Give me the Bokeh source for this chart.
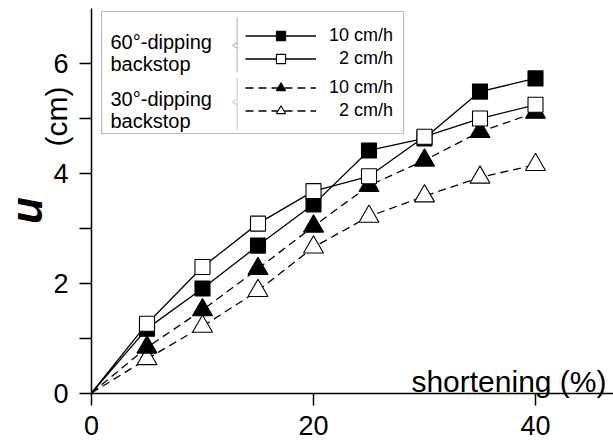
from bokeh.plotting import figure
from bokeh.models import (Range1d, FixedTicker, Label, BoxAnnotation, LinearAxis,
                          PolyAnnotation, Legend, LegendItem)
from bokeh.embed import file_html
from bokeh.resources import INLINE

# ---------------- data ----------------
shortening = [0, 5, 10, 15, 20, 25, 30, 35, 40]
u60_fast = [0, 1.17, 1.90, 2.68, 3.43, 4.41, 4.63, 5.48, 5.72]
u60_slow = [0, 1.26, 2.29, 3.08, 3.67, 3.94, 4.66, 4.99, 5.24]
u30_fast = [0, 0.83, 1.51, 2.26, 3.03, 3.77, 4.23, 4.75, 5.10]
u30_slow = [0, 0.62, 1.21, 1.86, 2.65, 3.21, 3.58, 3.92, 4.15]

x_ticks = [0, 20, 40]
y_ticks = [0, 2, 4, 6]
y_minor_ticks = [1, 3, 5]

rate_labels = ["10 cm/h", "\u20072 cm/h"]
group_labels = [["60°-dipping", "backstop"], ["30°-dipping", "backstop"]]
x_label = "shortening (%)"
y_label_symbol = "u"
y_label_unit = "(cm)"

FONT = "Liberation Sans"

# canvas size; data origin at canvas pixel (91, 392.5 from top)
W, H = 613, 444
X0, Y0 = 91, 392.5
PX_X, PX_Y = 11.1, 55.0
x_start, x_end = -X0 / PX_X, (W - X0) / PX_X
y_start, y_end = -(H - Y0) / PX_Y, Y0 / PX_Y

p = figure(width=W, height=H, output_backend="svg", toolbar_location=None,
           x_range=Range1d(x_start, x_end), y_range=Range1d(y_start, y_end),
           x_axis_type=None, y_axis_type=None,
           min_border_left=0, min_border_right=0, min_border_top=0,
           min_border_bottom=0)
p.outline_line_color = None
p.grid.visible = False
p.background_fill_color = "white"

xaxis = LinearAxis(fixed_location=0, bounds=(0, x_end),
                   ticker=FixedTicker(ticks=x_ticks, minor_ticks=[]))
yaxis = LinearAxis(fixed_location=0, bounds=(0, 7.0),
                   ticker=FixedTicker(ticks=y_ticks, minor_ticks=y_minor_ticks))
for ax in (xaxis, yaxis):
    ax.axis_line_width = 1.5
    ax.axis_line_color = "black"
    ax.major_tick_line_width = 1.5
    ax.minor_tick_line_width = 1.5
    ax.major_tick_in = 0
    ax.major_tick_out = 12
    ax.minor_tick_in = 0
    ax.minor_tick_out = 12
    ax.major_label_text_font = FONT
    ax.major_label_text_font_size = "27px"
    ax.major_label_text_color = "black"
xaxis.major_label_standoff = 11
yaxis.major_label_standoff = 11
p.add_layout(xaxis, "below")
p.add_layout(yaxis, "left")

# ---------------- lines ----------------
lw = 1.3
l1 = p.line(shortening, u60_fast, line_color="black", line_width=lw)
l2 = p.line(shortening, u60_slow, line_color="black", line_width=lw)
l3 = p.line(shortening, u30_fast, line_color="black", line_width=lw, line_dash="8 5")
l4 = p.line(shortening, u30_slow, line_color="black", line_width=lw, line_dash="8 5")

# ---------------- markers (no marker at origin) ----------------
s4 = p.scatter(shortening[1:], u30_slow[1:], marker="triangle", size=20,
               fill_color="white", line_color="black", line_width=1.1)
s3 = p.scatter(shortening[1:], u30_fast[1:], marker="triangle", size=20,
               fill_color="black", line_color="black", line_width=1.1)
s1 = p.scatter(shortening[1:], u60_fast[1:], marker="square", size=15,
               fill_color="black", line_color="black", line_width=1.1)
s2 = p.scatter(shortening[1:], u60_slow[1:], marker="square", size=15,
               fill_color="white", line_color="black", line_width=1.1)

# ---------------- legend ----------------
def make_legend(items, loc):
    return Legend(items=items, location=loc, glyph_width=71, glyph_height=23,
                  label_height=23, label_standoff=13, spacing=0, padding=0,
                  margin=0, border_line_color=None, background_fill_alpha=0,
                  label_text_font=FONT, label_text_font_size="18px",
                  label_text_color="black")

leg1 = make_legend([LegendItem(label=rate_labels[0], renderers=[l1, s1]),
                    LegendItem(label=rate_labels[1], renderers=[l2, s2])],
                   (245, 374.5))
leg2 = make_legend([LegendItem(label=rate_labels[0], renderers=[l3, s3]),
                    LegendItem(label=rate_labels[1], renderers=[l4, s4])],
                   (245, 322.5))
p.add_layout(leg1)
p.add_layout(leg2)

p.add_layout(BoxAnnotation(left=101, right=403, top=433, bottom=311,
                           left_units="screen", right_units="screen",
                           top_units="screen", bottom_units="screen",
                           fill_alpha=0, line_color="#222", line_width=1.2))

p.add_layout(PolyAnnotation(xs=[236.7, 236.7, 232, 236.7, 236.7],
                            ys=[427.3, 402, 399, 396, 372.3],
                            xs_units="screen", ys_units="screen",
                            fill_alpha=0, line_color="#222", line_width=1.2))
p.add_layout(PolyAnnotation(xs=[236.7, 236.7, 232, 236.7, 236.7],
                            ys=[367.3, 345.3, 342.3, 339.3, 314],
                            xs_units="screen", ys_units="screen",
                            fill_alpha=0, line_color="#888", line_width=1.5))

baselines = [[402.3, 380.7], [345.7, 324]]
for grp, bls in zip(group_labels, baselines):
    for txt, by in zip(grp, bls):
        p.add_layout(Label(x=110, y=by, x_units="screen", y_units="screen",
                           text=txt, text_font=FONT, text_font_size="20px",
                           text_baseline="alphabetic", text_align="left",
                           text_color="black"))

# ---------------- axis titles ----------------
p.add_layout(Label(x=606, y=63.3, x_units="screen", y_units="screen",
                   text=x_label, text_font=FONT, text_font_size="30px",
                   text_align="right", text_baseline="alphabetic",
                   text_color="black"))
p.add_layout(Label(x=26, y=234, x_units="screen", y_units="screen",
                   text=y_label_symbol, angle=1.5708, text_font=FONT,
                   text_font_size="44px", text_font_style="bold italic",
                   text_align="center", text_baseline="middle",
                   text_color="black"))
p.add_layout(Label(x=56, y=328, x_units="screen", y_units="screen",
                   text=y_label_unit, angle=1.5708, text_font=FONT,
                   text_font_size="30px", text_align="center",
                   text_baseline="middle", text_color="black"))

open("out.html", "w").write(file_html(p, INLINE))
